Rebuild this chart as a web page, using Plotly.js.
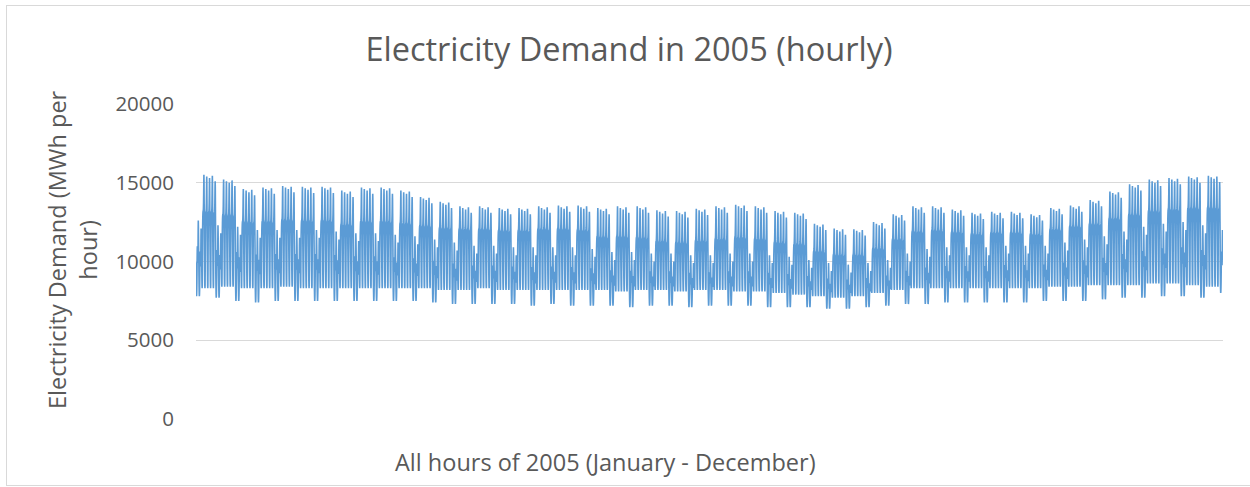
<!DOCTYPE html>
<html>
<head>
<meta charset="utf-8">
<script src="https://cdn.plot.ly/plotly-3.0.1.min.js"></script>
<style>
  html, body { margin: 0; padding: 0; background: #ffffff; }
  #wrap { position: relative; width: 1250px; height: 487px; overflow: hidden; }
  #chart { position: absolute; left: 0; top: 0; width: 1250px; height: 487px; }
  #frame { position: absolute; left: 6px; top: 5px; width: 1300px; height: 479px;
           border: 1px solid #d9d9d9; pointer-events: none; }
</style>
</head>
<body>
<div id="wrap">
  <div id="chart"></div>
  <div id="frame"></div>
</div>
<script>
// ---- Data (weekly envelope levels, MWh per hour) ----
// Week index w: w0 = Sat 1 Jan - Sun 2 Jan, w1 = Mon 3 Jan ..., w52 = Mon 26 Dec - Sat 31 Dec
const weekdayPeak = [12800,15400,15100,14500,14600,14700,14650,14650,14400,14600,14600,14400,
  14000,13700,13400,13400,13300,13300,13400,13450,13450,
  13300,13400,13400,13150,13100,13250,13400,13500,13400,13100,13000,
  12300,12000,11950,12400,
  12900,13400,13400,13200,13000,13050,13050,12900,
  13300,13450,13800,14350,14800,15100,15200,15300,15350];
const weekdayMid = [11500,12600,12400,12000,12000,12100,12050,12050,11800,12000,12000,11900,
  11800,11700,11700,11700,11600,11600,11700,11700,11600,
  11100,11100,11000,10800,10700,10800,10900,11000,10900,10700,10600,
  10200,10000,10000,10400,
  11000,11500,11600,11500,11400,11500,11500,11400,
  11700,11900,12000,12300,12500,12700,12800,12900,12900];
const weekdayMin = [7800,8300,8400,8300,8300,8400,8300,8300,8300,8300,8300,8300,
  8300,8200,8200,8300,8200,8200,8200,8200,8200,
  8200,8100,8200,8200,8100,8200,8200,8100,8100,8000,7900,
  7800,7700,7800,8000,
  8200,8300,8300,8300,8300,8300,8300,8300,
  8400,8400,8500,8500,8500,8600,8600,8500,8400];
const weekendPeak = [12600,12300,12200,12000,12000,12000,12000,11900,11800,11800,11700,11600,
  11400,11200,11000,11000,10900,10900,10900,10900,10800,
  10600,10600,10500,10500,10400,10400,10500,10500,10400,10300,10100,
  9900,9800,9900,10100,
  10500,10800,10900,10900,10900,11000,11000,11000,
  11200,11400,11600,11900,12200,12400,12500,12300,12000];
const weekendMin = [7800,7700,7500,7400,7500,7500,7500,7500,7500,7500,7500,7500,
  7400,7300,7300,7300,7300,7200,7300,7200,7200,
  7200,7100,7200,7200,7100,7200,7200,7200,7100,7100,7100,
  7000,7000,7100,7200,
  7300,7300,7400,7400,7400,7400,7400,7500,
  7500,7500,7600,7700,7700,7800,7800,7700,8000];
// Mon..Fri peak offsets, Sat/Sun peak offsets
const weekdayPeakOffset = [100, 0, -100, 50, -300];
const weekendPeakOffset = [0, -500];
// Typical daily load shapes (hours 0..23)
const weekdayBase = [0.45,0.28,0.12,0.03,0.00,0.05,0.30,0.65,0.88,0.97,1,1,1,1,1,1,1,1,1,1,0.97,0.90,0.78,0.62];
const weekdayEvening = [0.05,0,0,0,0,0,0,0,0,0.05,0.12,0.18,0.20,0.20,0.22,0.28,0.40,0.60,0.85,1,0.90,0.60,0.30,0.12];
const weekendShape = [0.45,0.28,0.14,0.05,0,0.02,0.08,0.18,0.32,0.48,0.60,0.66,0.62,0.52,0.45,0.44,0.50,0.66,0.88,1,0.92,0.78,0.64,0.52];

// ---- Build the hourly series from the read levels ----
const hours = [];
const demand = [];
for (let d = 0; d < 365; d++) {
  const dow = (d + 5) % 7;          // 0 = Monday ... 6 = Sunday (1 Jan 2005 = Saturday)
  const w = Math.floor((d + 5) / 7);
  for (let h = 0; h < 24; h++) {
    let v;
    if (dow < 5) {
      const pk = weekdayPeak[w] + weekdayPeakOffset[dow];
      const mid = weekdayMid[w], mn = weekdayMin[w];
      v = mn + (mid - mn) * weekdayBase[h] + (pk - mid) * weekdayEvening[h];
    } else {
      const pk = weekendPeak[w] + weekendPeakOffset[dow - 5];
      const mn = weekendMin[w];
      v = mn + (pk - mn) * weekendShape[h];
    }
    hours.push(d * 24 + h);
    demand.push(Math.round(v));
  }
}

const FONT = '"Open Sans", "Noto Sans", sans-serif';
const TXT = '#595959';

const trace = {
  type: 'scatter', mode: 'lines',
  x: hours, y: demand,
  line: { color: '#5B9BD5', width: 1.6, simplify: false },
  hoverinfo: 'skip', showlegend: false
};

const layout = {
  width: 1250, height: 487,
  margin: { l: 196, r: 27, t: 104, b: 68 },
  paper_bgcolor: '#ffffff', plot_bgcolor: '#ffffff',
  title: {
    text: 'Electricity Demand in 2005 (hourly)',
    font: { family: FONT, size: 32.5, color: TXT },
    xref: 'container', x: 629 / 1250, xanchor: 'center',
    yref: 'container', y: 1 - 50 / 487, yanchor: 'middle'
  },
  xaxis: {
    range: [-0.5, 8759.5], showgrid: false, zeroline: false,
    showticklabels: false, showline: false, ticks: ''
  },
  yaxis: {
    range: [0, 20000], dtick: 5000, tick0: 0, tickformat: 'd',
    gridcolor: '#d9d9d9', gridwidth: 1.3, zeroline: false, showline: false, ticks: '',
    tickfont: { family: FONT, size: 20.5, color: TXT },
    ticklabelstandoff: 21
  },
  annotations: [
    {
      text: 'Electricity Demand (MWh per<br>hour)', textangle: -90,
      xref: 'paper', yref: 'paper',
      x: (72 - 196) / 1027, y: (419 - 250) / 315,
      xanchor: 'center', yanchor: 'middle', showarrow: false, align: 'center',
      font: { family: FONT, size: 23.5, color: TXT }
    },
    {
      text: 'All hours of 2005 (January - December)',
      xref: 'paper', yref: 'paper',
      x: (605 - 196) / 1027, y: (419 - 462) / 315,
      xanchor: 'center', yanchor: 'middle', showarrow: false,
      font: { family: FONT, size: 23.5, color: TXT }
    }
  ]
};

Plotly.newPlot('chart', [trace], layout, { displayModeBar: false, staticPlot: true });
</script>
</body>
</html>
